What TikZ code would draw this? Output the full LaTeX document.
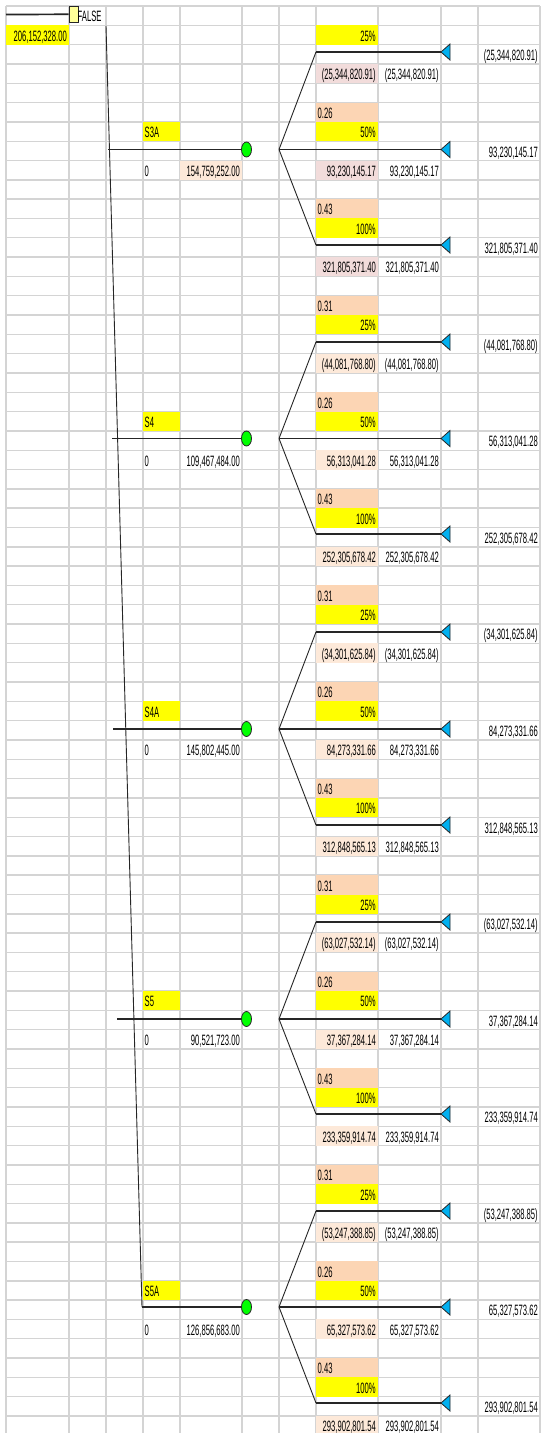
\documentclass[tikz,border=0pt]{standalone}
\usepackage{fontspec}
\newfontfamily\cellfont{Liberation Sans}[FakeStretch=0.51]
\usetikzlibrary{shapes.geometric}
\definecolor{peach}{HTML}{FCD5B4}
\definecolor{peachlt}{HTML}{FDE9D9}
\definecolor{pinklt}{HTML}{F2DCDB}
\definecolor{xyel}{HTML}{FFFF00}
\definecolor{lyel}{HTML}{FFFF99}
\definecolor{tricol}{HTML}{00B0F0}
\definecolor{grn}{HTML}{00FF00}
\definecolor{gridc}{HTML}{D4D4D4}
\newcommand\rowtop[1]{6+19.315*(#1)}
\newcommand\cfill[4]{\fill[#1] (#2,{\rowtop{#4}}) rectangle (#3,{\rowtop{#4+1}});}
\newcommand\rtext[4]{\node[rt] (#1) at ({#2-2},{\rowtop{#3+1}-3.5}) {#4};}
\newcommand\ltext[4]{\node[lt] (#1) at ({#2+1.5},{\rowtop{#3+1}-3.5}) {#4};}
\tikzset{
  cell/.style={font=\cellfont\fontsize{15}{15}\selectfont, inner sep=0pt, text=black},
  rt/.style={cell, anchor=base east},
  lt/.style={cell, anchor=base west},
  gridline/.style={draw=gridc, line width=1.4pt},
  branch/.style={draw=black!85, line width=1.7pt},
  thinline/.style={draw=black!85, line width=0.9pt},
  chance/.style={ellipse, draw=black!85, fill=grn, minimum width=10pt, minimum height=15pt, inner sep=0pt, line width=0.8pt},
  decision/.style={rectangle, draw=black!85, fill=lyel, minimum width=9pt, minimum height=16pt, inner sep=0pt, line width=0.8pt},
  endtri/.style={draw=black!85, fill=tricol, line width=0.8pt, line join=miter}
}
\newcommand\blockfills[1]{%
  \pgfmathtruncatemacro\rb{15*#1}%
  \ifnum#1>0 \cfill{peach}{316}{378}{\rb}\fi
  \cfill{xyel}{316}{378}{\rb+1}
  \cfill{\vfc}{316}{378}{\rb+3}
  \cfill{peach}{316}{378}{\rb+5}
  \cfill{xyel}{316}{378}{\rb+6}
  \cfill{xyel}{143}{180}{\rb+6}
  \ifnum#1=0 \cfill{peachlt}{180}{242}{\rb+8}\fi
  \cfill{\vfc}{316}{378}{\rb+8}
  \cfill{peach}{316}{378}{\rb+10}
  \cfill{xyel}{316}{378}{\rb+11}
  \cfill{\vfc}{316}{378}{\rb+13}
}
\newcommand\block[9]{%
  \pgfmathtruncatemacro\rb{15*#1}%
  % lines
  \coordinate (s#2) at (\xs,#8);
  \node[chance] (c#2) at (246.5,#8) {};
  \coordinate (v#2) at (279,#8);
  \coordinate (ta#2) at (316,#7);
  \coordinate (tc#2) at (316,#9);
  \coordinate (ea#2) at (441,#7);
  \coordinate (eb#2) at (441,#8);
  \coordinate (ec#2) at (441,#9);
  \draw[branch] (s#2) -- (c#2.west);
  \draw[thinline] (v#2) -- (ta#2);
  \draw[thinline] (v#2) -- (tc#2);
  \draw[branch] (ta#2) -- (ea#2);
  \draw[branch] (v#2) -- (eb#2);
  \draw[branch] (tc#2) -- (ec#2);
  \draw[endtri] (ea#2) -- ++(9,-8) -- ++(0,16) -- cycle;
  \draw[endtri] (eb#2) -- ++(9,-8) -- ++(0,16) -- cycle;
  \draw[endtri] (ec#2) -- ++(9,-8) -- ++(0,16) -- cycle;
  % texts
  \ifnum#1>0 \ltext{q0#2}{316}{\rb}{0.31}\fi
  \rtext{pa#2}{378}{\rb+1}{25\%}
  \rtext{oa#2}{540}{\rb+2}{#4}
  \rtext{va#2}{378}{\rb+3}{#4}
  \rtext{wa#2}{441}{\rb+3}{#4}
  \ltext{qb#2}{316}{\rb+5}{0.26}
  \rtext{pb#2}{378}{\rb+6}{50\%}
  \ltext{l#2}{143}{\rb+6}{#2}
  \rtext{ob#2}{540}{\rb+7}{#5}
  \ltext{z#2}{143}{\rb+8}{0}
  \rtext{ev#2}{242}{\rb+8}{#3}
  \rtext{vb#2}{378}{\rb+8}{#5}
  \rtext{wb#2}{441}{\rb+8}{#5}
  \ltext{qc#2}{316}{\rb+10}{0.43}
  \rtext{pc#2}{378}{\rb+11}{100\%}
  \rtext{oc#2}{540}{\rb+12}{#6}
  \rtext{vc#2}{378}{\rb+13}{#6}
  \rtext{wc#2}{441}{\rb+13}{#6}
}
\begin{document}
\begin{tikzpicture}[x=1pt,y=-1pt]
\path[use as bounding box] (0,0) rectangle (541,1433);
\clip (0,0) rectangle (541,1433);
\fill[white] (0,0) rectangle (541,1433);
% grid
\foreach \k in {0,...,73} \draw[gridline] (6,{\rowtop{\k}}) -- (540,{\rowtop{\k}});
\foreach \x in {6,69,106,143,180,242,279,316,378,441,478,540} \draw[gridline] (\x,6) -- (\x,1433);
% fills
\cfill{xyel}{6}{69}{1}
\def\vfc{pinklt}
\blockfills{0}
\def\vfc{peachlt}
\blockfills{1}
\blockfills{2}
\blockfills{3}
\blockfills{4}
% root
\coordinate (r0) at (6,14.5);
\node[decision] (dec) at (73.5,14.3) {};
\draw[branch] (r0) -- (dec.west);
\node[lt] (false) at (77.5,{\rowtop{1}-3.5}) {FALSE};
\rtext{root}{69}{1}{206,152,328.00}
\coordinate (tk0) at (106,26);
% blocks
\def\xs{108}\def\vfc{pinklt}
\block{0}{S3A}{154,759,252.00}{(25,344,820.91)}{93,230,145.17}{321,805,371.40}{52}{149.5}{245}
\def\xs{112}\def\vfc{peachlt}
\block{1}{S4}{109,467,484.00}{(44,081,768.80)}{56,313,041.28}{252,305,678.42}{342}{438.5}{534}
\def\xs{113}
\block{2}{S4A}{145,802,445.00}{(34,301,625.84)}{84,273,331.66}{312,848,565.13}{632}{729}{825}
\def\xs{117}
\block{3}{S5}{90,521,723.00}{(63,027,532.14)}{37,367,284.14}{233,359,914.74}{922}{1019}{1114}
\def\xs{142}
\block{4}{S5A}{126,856,683.00}{(53,247,388.85)}{65,327,573.62}{293,902,801.54}{1211}{1307}{1403}
\draw[thinline] (tk0) -- (sS5A);
\end{tikzpicture}
\end{document}
